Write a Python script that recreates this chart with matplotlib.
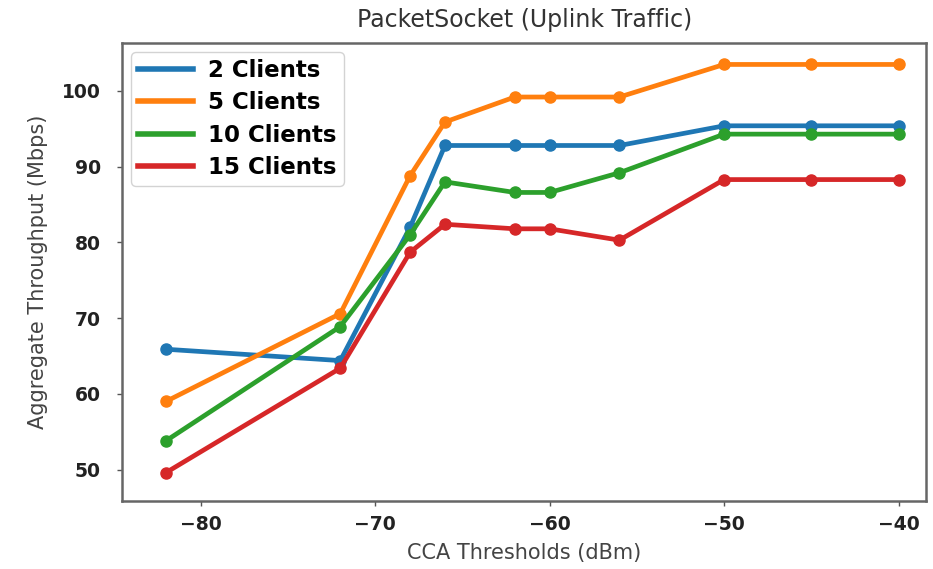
import matplotlib
matplotlib.use("Agg")
import matplotlib.pyplot as plt

cca_thresholds = [-82, -72, -68, -66, -62, -60, -56, -50, -45, -40]
clients_2 = [65.9, 64.4, 82.0, 92.8, 92.8, 92.8, 92.8, 95.4, 95.4, 95.4]
clients_5 = [59.0, 70.6, 88.8, 95.9, 99.2, 99.2, 99.2, 103.5, 103.5, 103.5]
clients_10 = [53.8, 68.9, 81.0, 88.0, 86.6, 86.6, 89.2, 94.3, 94.3, 94.3]
clients_15 = [49.6, 63.4, 78.7, 82.4, 81.8, 81.8, 80.3, 88.3, 88.3, 88.3]

series_labels = ["2 Clients", "5 Clients", "10 Clients", "15 Clients"]
series_values = [clients_2, clients_5, clients_10, clients_15]
colors = ["#1f77b4", "#ff7f0e", "#2ca02c", "#d62728"]

fig = plt.figure(figsize=(9.33, 5.69), dpi=100)
ax = fig.add_axes([0.131, 0.12, 0.862, 0.804])

for label, vals, c in zip(series_labels, series_values, colors):
    ax.plot(cca_thresholds, vals, color=c, linewidth=3.4, marker="o",
            markersize=8, label=label)

ax.set_xlim(-84.5, -38.4)
ax.set_ylim(45.9, 106.3)
ax.set_yticks([50, 60, 70, 80, 90, 100])
ax.set_xticks([-80, -70, -60, -50, -40])
ax.tick_params(axis="both", labelsize=13.5, width=1, length=3.5, colors="#555555")
ax.tick_params(axis="x", pad=7)
ax.tick_params(axis="y", pad=12)
for lbl in ax.get_xticklabels() + ax.get_yticklabels():
    lbl.set_fontweight("bold")
    lbl.set_color("#222222")

for s in ax.spines.values():
    s.set_color("#666666")
    s.set_linewidth(1.8)

ax.set_title("PacketSocket (Uplink Traffic)", fontsize=17, color="#333333", pad=12)
ax.set_xlabel("CCA Thresholds (dBm)", fontsize=15, color="#444444", labelpad=6)
ax.set_ylabel("Aggregate Throughput (Mbps)", fontsize=15, color="#444444", labelpad=10)

leg = ax.legend(loc="upper left", prop={"weight": "bold", "size": 16.5},
                handlelength=2.4, handletextpad=0.65, labelspacing=0.4,
                borderaxespad=0.4, borderpad=0.3, framealpha=0.85)
for line in leg.get_lines():
    line.set_linewidth(4)
    line.set_marker("")

fig.savefig("out.png", dpi=100)
